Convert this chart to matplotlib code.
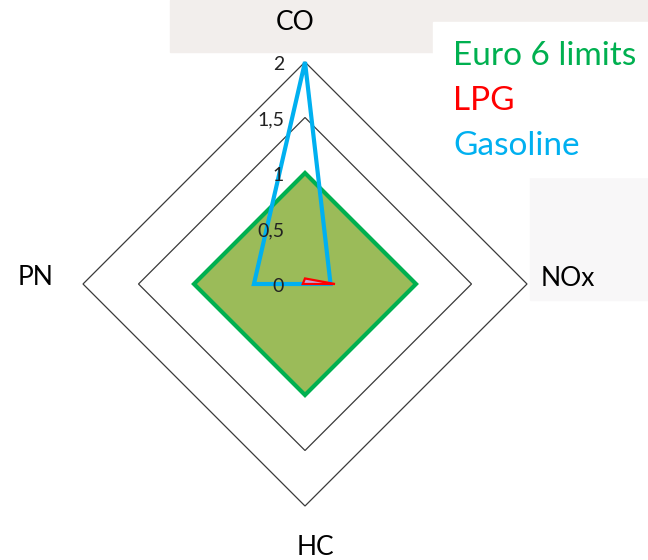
import numpy as np
import matplotlib
matplotlib.use("Agg")
import matplotlib.pyplot as plt
from matplotlib.patches import Rectangle, Polygon
from matplotlib.transforms import offset_copy

plt.rcParams['font.family'] = ['Lato', 'DejaVu Sans']

# data
axes_names = ['CO', 'NOx', 'HC', 'PN']
euro6 = [1.0, 1.0, 1.0, 1.0]
lpg = [0.05, 0.27, 0.0, 0.02]
gasoline = [2.0, 0.23, 0.0, 0.46]
grid_levels = [0.5, 1.0, 1.5, 2.0]
tick_labels = ['0', '0,5', '1', '1,5', '2']
tick_values = [0.0, 0.5, 1.0, 1.5, 2.0]

W, H = 648, 560
CX, CY = 305, 284      # centre of the radar in pixels
UNIT = 111             # pixels per unit

angles = np.array([0, 90, 180, 270]) * np.pi / 180  # clockwise from top


def to_xy(vals):
    v = np.asarray(vals, dtype=float)
    return v * np.sin(angles), v * np.cos(angles)


def fx(x):
    return x / W


def fy(y):
    return 1 - y / H


fig = plt.figure(figsize=(W / 100, H / 100), dpi=100)
fig.patch.set_facecolor('white')

# faint photo-like background bits
fig.patches.append(Rectangle((fx(170), fy(52)), fx(648 - 170), 52 / H,
                             transform=fig.transFigure, color='#f2eeec', zorder=0))
fig.patches.append(Rectangle((fx(433), fy(177)), fx(215), 155 / H,
                             transform=fig.transFigure, color='white', zorder=0.5))
fig.patches.append(Rectangle((fx(530), fy(300)), fx(118), 123 / H,
                             transform=fig.transFigure, color='#f8f7f8', zorder=0))

ax = fig.add_axes([0, 0, 1, 1])
ax.set_facecolor('none')
ax.set_xlim(-CX / UNIT, (W - CX) / UNIT)
ax.set_ylim(-(H - CY) / UNIT, CY / UNIT)
ax.axis('off')

# diamond grid
for g in grid_levels:
    x, y = to_xy([g] * 4)
    ax.add_patch(Polygon(np.column_stack([x, y]), closed=True, fill=False,
                         edgecolor='#3a3a3a', linewidth=0.9, zorder=1))

# Euro 6 limits
x, y = to_xy(euro6)
ax.add_patch(Polygon(np.column_stack([x, y]), closed=True, facecolor='#9bbb59',
                     edgecolor='#00b050', linewidth=3, joinstyle='miter', zorder=2))

# Gasoline
x, y = to_xy(gasoline)
ax.add_patch(Polygon(np.column_stack([x, y]), closed=True, fill=False,
                     edgecolor='#00b0f0', linewidth=3, joinstyle='miter', zorder=3))

# LPG
x, y = to_xy(lpg)
ax.add_patch(Polygon(np.column_stack([x, y]), closed=True, facecolor='#c4a6d6',
                     edgecolor='#ff0000', linewidth=1.6, joinstyle='miter', zorder=4))

# radial tick labels
tick_tr = offset_copy(ax.transData, fig=fig, x=-21 * 0.72, y=-8 * 0.72, units='points')
for v, lab in zip(tick_values, tick_labels):
    ax.text(0, v, lab, transform=tick_tr, ha='right', va='baseline',
            fontsize=14, color='#222222', zorder=5)

# category labels
cat_pos = {'CO': (295, 30), 'NOx': (568, 286), 'HC': (315, 555), 'PN': (36, 285)}
for name in axes_names:
    px, py = cat_pos[name]
    fig.text(fx(px), fy(py), name, ha='center', va='baseline',
             fontsize=19, color='black')

# legend as coloured text
legend_items = [('Euro 6 limits', '#00b050', 65),
                ('LPG', '#ff0000', 110),
                ('Gasoline', '#00b0f0', 155)]
for txt, col, base in legend_items:
    fig.text(fx(453), fy(base), txt, ha='left', va='baseline',
             fontsize=24, color=col)

fig.savefig('out.png', dpi=100)
